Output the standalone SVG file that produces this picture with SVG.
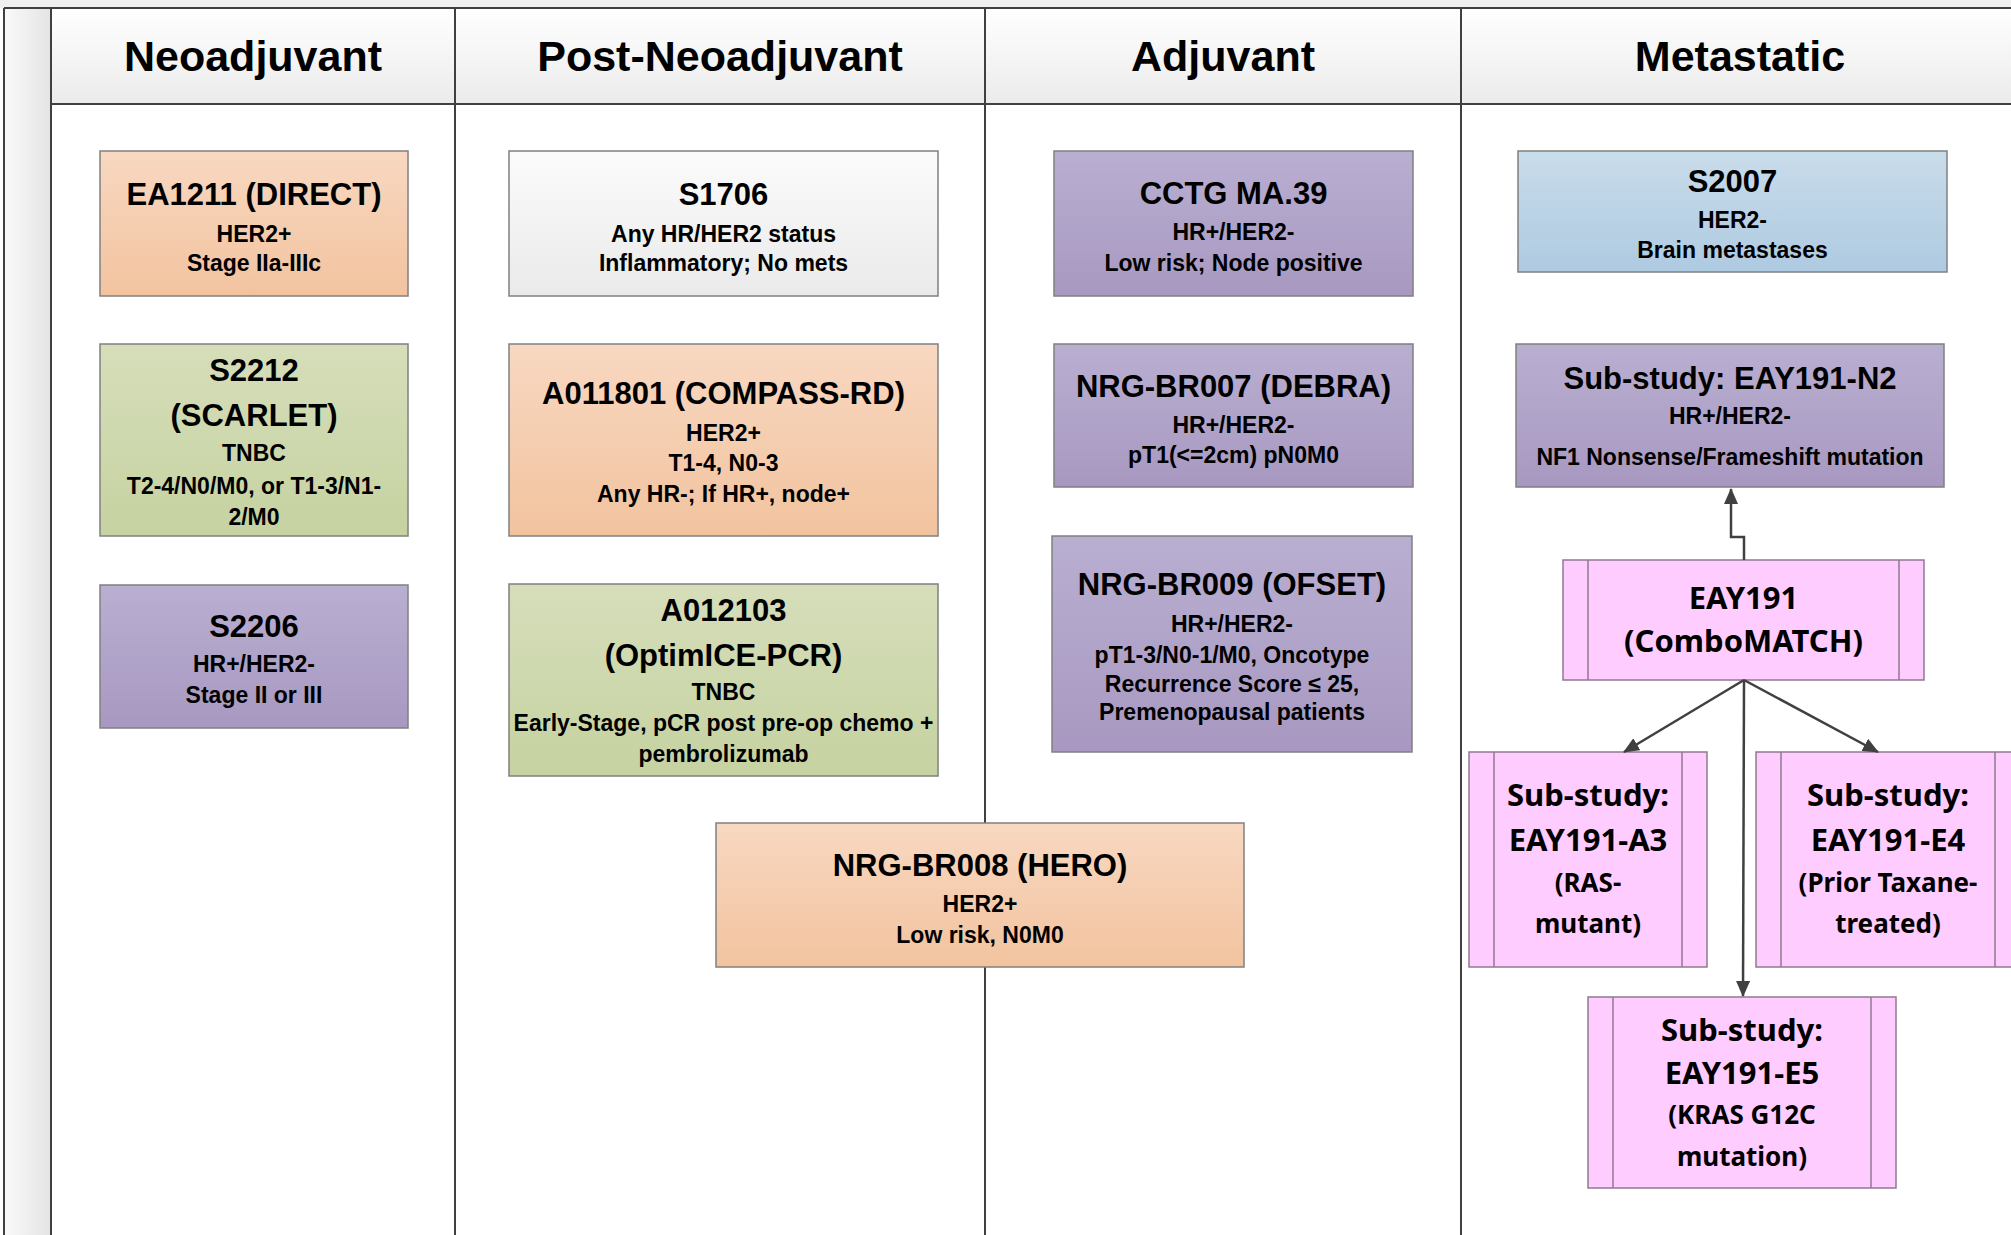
<svg xmlns="http://www.w3.org/2000/svg" width="2011" height="1235" viewBox="0 0 2011 1235">
<defs>
<linearGradient id="gPeach" x1="0" y1="0" x2="0" y2="1"><stop offset="0" stop-color="#f8d8c1"/><stop offset="1" stop-color="#f2c39f"/></linearGradient>
<linearGradient id="gGreen" x1="0" y1="0" x2="0" y2="1"><stop offset="0" stop-color="#d6deba"/><stop offset="1" stop-color="#c6d2a1"/></linearGradient>
<linearGradient id="gPurple" x1="0" y1="0" x2="0" y2="1"><stop offset="0" stop-color="#b9afd1"/><stop offset="1" stop-color="#a898c1"/></linearGradient>
<linearGradient id="gWhite" x1="0" y1="0" x2="0" y2="1"><stop offset="0" stop-color="#fbfbfb"/><stop offset="1" stop-color="#eaeaea"/></linearGradient>
<linearGradient id="gBlue" x1="0" y1="0" x2="0" y2="1"><stop offset="0" stop-color="#c9dcea"/><stop offset="1" stop-color="#aecae1"/></linearGradient>
<linearGradient id="gHead" x1="0" y1="0" x2="0" y2="1"><stop offset="0" stop-color="#ffffff"/><stop offset="1" stop-color="#ebebeb"/></linearGradient>
<linearGradient id="gLeft" x1="0" y1="0" x2="1" y2="0"><stop offset="0" stop-color="#fafafa"/><stop offset="1" stop-color="#e4e4e4"/></linearGradient>
<marker id="arr" markerUnits="userSpaceOnUse" markerWidth="16" markerHeight="14" refX="15" refY="7" orient="auto">
<path d="M0,0 L16,7 L0,14 Z" fill="#404040"/>
</marker>
<style>
.frame{stroke:#404040;stroke-width:2;fill:none}
.box{stroke:#808080;stroke-width:1.5}
.pink{fill:#ffccff;stroke:#8e7a8e;stroke-width:1.5}
.pin{stroke:#8e7a8e;stroke-width:1.5}
.h{font-family:"Liberation Sans",Arial,sans-serif;font-weight:bold;font-size:43px;fill:#000;text-anchor:middle}
.t{font-family:"Liberation Sans",Arial,sans-serif;font-weight:bold;font-size:31px;fill:#000;text-anchor:middle}
.s{font-family:"Liberation Sans",Arial,sans-serif;font-weight:bold;font-size:23px;fill:#000;text-anchor:middle}
.pt{font-family:"Noto Sans","DejaVu Sans",sans-serif;font-weight:bold;font-size:31px;fill:#000;text-anchor:middle}
.ps{font-family:"Noto Sans","DejaVu Sans",sans-serif;font-weight:bold;font-size:26px;fill:#000;text-anchor:middle}
.conn{stroke:#404040;stroke-width:2.5;fill:none}
</style>
</defs>

<g id="background">
<rect x="0" y="0" width="2011" height="1235" fill="#ffffff"/>
<rect x="0" y="0" width="2011" height="8" fill="#f0f0f0"/>
<rect x="4" y="8" width="47" height="1227" fill="url(#gLeft)"/>
<rect x="51" y="8" width="1960" height="96" fill="url(#gHead)"/>
</g>

<g id="lanes">
<line class="frame" x1="4" y1="8" x2="2011" y2="8"/>
<line class="frame" x1="4" y1="8" x2="4" y2="1235"/>
<line class="frame" x1="51" y1="8" x2="51" y2="1235"/>
<line class="frame" x1="455" y1="8" x2="455" y2="1235"/>
<line class="frame" x1="985" y1="8" x2="985" y2="1235"/>
<line class="frame" x1="1461" y1="8" x2="1461" y2="1235"/>
<line class="frame" x1="51" y1="104" x2="2011" y2="104"/>
<text class="h" x="253" y="71">Neoadjuvant</text>
<text class="h" x="720" y="71">Post-Neoadjuvant</text>
<text class="h" x="1223" y="71">Adjuvant</text>
<text class="h" x="1740" y="71">Metastatic</text>
</g>

<g id="EA1211">
<rect class="box" x="100" y="151" width="308" height="145" fill="url(#gPeach)"/>
<text class="t" x="254" y="205">EA1211 (DIRECT)</text>
<text class="s" x="254" y="242">HER2+</text>
<text class="s" x="254" y="271">Stage IIa-IIIc</text>
</g>

<g id="S2212">
<rect class="box" x="100" y="344" width="308" height="192" fill="url(#gGreen)"/>
<text class="t" x="254" y="381">S2212</text>
<text class="t" x="254" y="426">(SCARLET)</text>
<text class="s" x="254" y="461">TNBC</text>
<text class="s" x="254" y="494">T2-4/N0/M0, or T1-3/N1-</text>
<text class="s" x="254" y="525">2/M0</text>
</g>

<g id="S2206">
<rect class="box" x="100" y="585" width="308" height="143" fill="url(#gPurple)"/>
<text class="t" x="254" y="637">S2206</text>
<text class="s" x="254" y="672">HR+/HER2-</text>
<text class="s" x="254" y="703">Stage II or III</text>
</g>

<g id="S1706">
<rect class="box" x="509" y="151" width="429" height="145" fill="url(#gWhite)"/>
<text class="t" x="723.5" y="205">S1706</text>
<text class="s" x="723.5" y="242">Any HR/HER2 status</text>
<text class="s" x="723.5" y="271">Inflammatory; No mets</text>
</g>

<g id="A011801">
<rect class="box" x="509" y="344" width="429" height="192" fill="url(#gPeach)"/>
<text class="t" x="723.5" y="404">A011801 (COMPASS-RD)</text>
<text class="s" x="723.5" y="441">HER2+</text>
<text class="s" x="723.5" y="471">T1-4, N0-3</text>
<text class="s" x="723.5" y="502">Any HR-; If HR+, node+</text>
</g>

<g id="A012103">
<rect class="box" x="509" y="584" width="429" height="192" fill="url(#gGreen)"/>
<text class="t" x="723.5" y="621">A012103</text>
<text class="t" x="723.5" y="666">(OptimICE-PCR)</text>
<text class="s" x="723.5" y="700">TNBC</text>
<text class="s" x="723.5" y="731">Early-Stage, pCR post pre-op chemo +</text>
<text class="s" x="723.5" y="762">pembrolizumab</text>
</g>

<g id="NRG-BR008">
<rect class="box" x="716" y="823" width="528" height="144" fill="url(#gPeach)"/>
<text class="t" x="980" y="876">NRG-BR008 (HERO)</text>
<text class="s" x="980" y="912">HER2+</text>
<text class="s" x="980" y="943">Low risk, N0M0</text>
</g>

<g id="CCTG-MA39">
<rect class="box" x="1054" y="151" width="359" height="145" fill="url(#gPurple)"/>
<text class="t" x="1233.5" y="204">CCTG MA.39</text>
<text class="s" x="1233.5" y="240">HR+/HER2-</text>
<text class="s" x="1233.5" y="271">Low risk; Node positive</text>
</g>

<g id="NRG-BR007">
<rect class="box" x="1054" y="344" width="359" height="143" fill="url(#gPurple)"/>
<text class="t" x="1233.5" y="397">NRG-BR007 (DEBRA)</text>
<text class="s" x="1233.5" y="433">HR+/HER2-</text>
<text class="s" x="1233.5" y="463">pT1(&lt;=2cm) pN0M0</text>
</g>

<g id="NRG-BR009">
<rect class="box" x="1052" y="536" width="360" height="216" fill="url(#gPurple)"/>
<text class="t" x="1232" y="595">NRG-BR009 (OFSET)</text>
<text class="s" x="1232" y="632">HR+/HER2-</text>
<text class="s" x="1232" y="663">pT1-3/N0-1/M0, Oncotype</text>
<text class="s" x="1232" y="692">Recurrence Score ≤ 25,</text>
<text class="s" x="1232" y="720">Premenopausal patients</text>
</g>

<g id="S2007">
<rect class="box" x="1518" y="151" width="429" height="121" fill="url(#gBlue)"/>
<text class="t" x="1732.5" y="192">S2007</text>
<text class="s" x="1732.5" y="228">HER2-</text>
<text class="s" x="1732.5" y="258">Brain metastases</text>
</g>

<g id="EAY191-N2">
<rect class="box" x="1516" y="344" width="428" height="143" fill="url(#gPurple)"/>
<text class="t" x="1730" y="389">Sub-study: EAY191-N2</text>
<text class="s" x="1730" y="424">HR+/HER2-</text>
<text class="s" x="1730" y="465">NF1 Nonsense/Frameshift mutation</text>
</g>

<g id="EAY191">
<rect class="pink" x="1563" y="560" width="361" height="120"/>
<line class="pin" x1="1588" y1="560" x2="1588" y2="680"/>
<line class="pin" x1="1899" y1="560" x2="1899" y2="680"/>
<text class="pt" x="1743.5" y="609">EAY191</text>
<text class="pt" x="1743.5" y="652">(ComboMATCH)</text>
</g>

<g id="EAY191-A3">
<rect class="pink" x="1469" y="752" width="238" height="215"/>
<line class="pin" x1="1494" y1="752" x2="1494" y2="967"/>
<line class="pin" x1="1682" y1="752" x2="1682" y2="967"/>
<text class="pt" x="1588" y="806">Sub-study:</text>
<text class="pt" x="1588" y="851">EAY191-A3</text>
<text class="ps" x="1588" y="892">(RAS-</text>
<text class="ps" x="1588" y="933">mutant)</text>
</g>

<g id="EAY191-E4">
<rect class="pink" x="1756" y="752" width="264" height="215"/>
<line class="pin" x1="1781" y1="752" x2="1781" y2="967"/>
<line class="pin" x1="1995" y1="752" x2="1995" y2="967"/>
<text class="pt" x="1888" y="806">Sub-study:</text>
<text class="pt" x="1888" y="851">EAY191-E4</text>
<text class="ps" x="1888" y="892">(Prior Taxane-</text>
<text class="ps" x="1888" y="933">treated)</text>
</g>

<g id="EAY191-E5">
<rect class="pink" x="1588" y="997" width="308" height="191"/>
<line class="pin" x1="1613" y1="997" x2="1613" y2="1188"/>
<line class="pin" x1="1871" y1="997" x2="1871" y2="1188"/>
<text class="pt" x="1742" y="1041">Sub-study:</text>
<text class="pt" x="1742" y="1084">EAY191-E5</text>
<text class="ps" x="1742" y="1124">(KRAS G12C</text>
<text class="ps" x="1742" y="1166">mutation)</text>
</g>

<g id="connectors">
<path class="conn" d="M1744,560 V537 H1731 V489" marker-end="url(#arr)"/>
<path class="conn" d="M1744,680 L1624,752" marker-end="url(#arr)"/>
<path class="conn" d="M1744,680 L1878,752" marker-end="url(#arr)"/>
<path class="conn" d="M1744,680 L1743,996" marker-end="url(#arr)"/>
</g>
</svg>
